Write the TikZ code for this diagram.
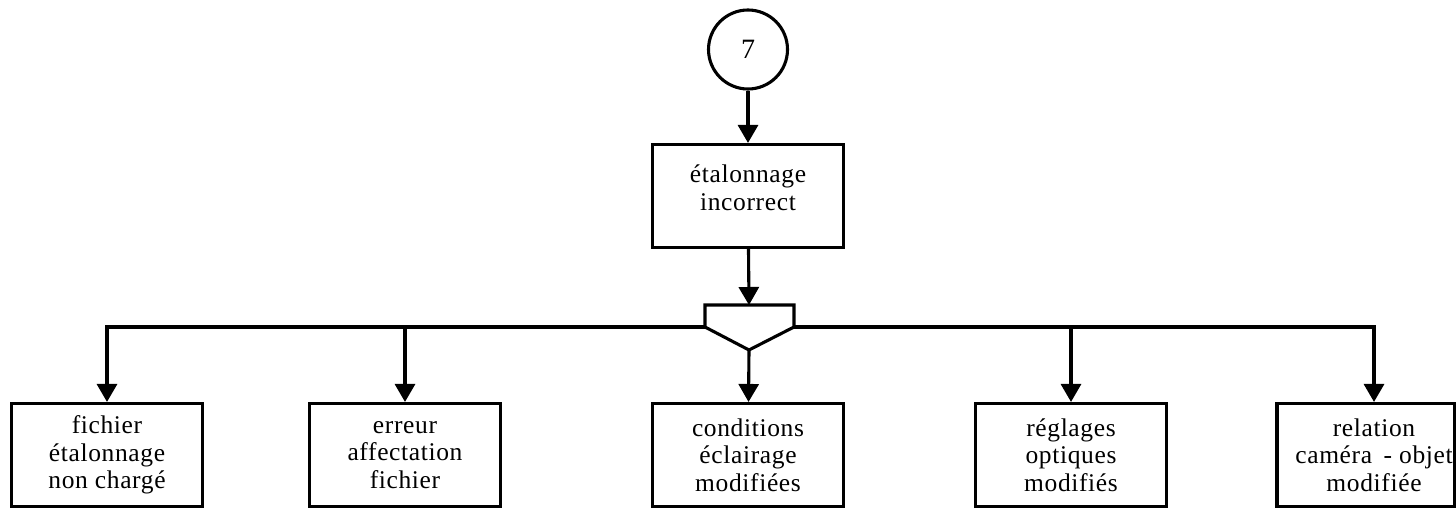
\documentclass[tikz,border=0pt]{standalone}
\usepackage{fontspec}
\setmainfont{Liberation Serif}[LetterSpace=2.5]
\usetikzlibrary{arrows.meta}
\begin{document}
\begin{tikzpicture}[x=1pt,y=-1pt,
  line width=3.1pt,
  arr/.style={-{Triangle[length=18pt,width=20pt]}},
  txt/.style={align=center,inner sep=0pt,font=\fontsize{25.5}{27.5}\selectfont},
  leaf/.style={draw,rectangle,minimum width=191pt,minimum height=103pt,inner sep=0pt,txt},
]
\useasboundingbox (0,0) rectangle (1456,508);
% start connector
\node[draw,circle,minimum size=79pt,inner sep=0pt,font=\fontsize{28}{30}\selectfont] (c7) at (748,49.5) {7};
% top event
\node[draw,rectangle,minimum width=191pt,minimum height=103pt] (top) at (748,196) {};
\node[txt] (toptxt) at (748,188) {étalonnage\\incorrect};
% merge symbol
\coordinate (mt) at (749,305);
\coordinate (ml) at (705,327);
\coordinate (mr) at (794,327);
\coordinate (mb) at (749,350);
\draw[line join=miter] (705,305) -- (794,305) -- (mr) -- (mb) -- (ml) -- cycle;
% causes
\node[leaf] (b1) at (107,455) {fichier\\étalonnage\\non chargé};
\node[leaf] (b2) at (405,455) {erreur\\affectation\\fichier};
\node[leaf] (b3) at (748,455) {conditions\\éclairage\\modifiées};
\node[leaf] (b4) at (1071,455) {réglages\\optiques\\modifiés};
\node[draw,rectangle,minimum width=178pt,minimum height=103pt,inner sep=0pt] (b5) at (1366,455) {};
\node[txt] (b5t) at (1374,455) {relation\\caméra\hspace{0.45em}- objet\\modifiée};
% connectors
\draw[arr] (c7) -- (top);
\draw[arr] (top) -- (mt);
\draw[arr] (mb) -- (b3);
\draw[arr] (ml) -| (b1.north);
\draw[arr] (ml) -| (b2.north);
\draw[arr] (mr) -| (b4.north);
\draw[arr] (mr) -| (b5.north -| b5t);
\end{tikzpicture}
\end{document}
